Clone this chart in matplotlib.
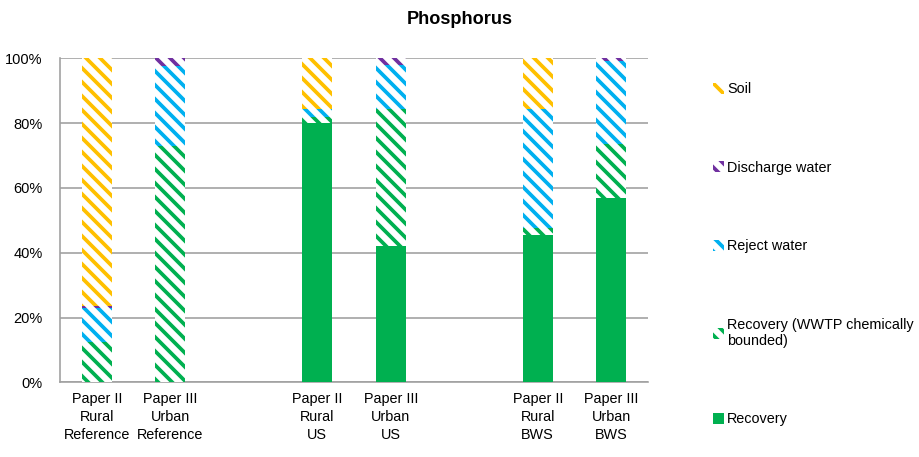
import numpy as np
import matplotlib.pyplot as plt
from matplotlib.patches import Patch

# categories (empty strings are the gaps between groups)
categories = ["Paper II\nRural\nReference", "Paper III\nUrban\nReference", "",
              "Paper II\nRural\nUS", "Paper III\nUrban\nUS", "",
              "Paper II\nRural\nBWS", "Paper III\nUrban\nBWS"]

# shares in %, bottom to top of each stack
recovery = [0, 0, 0, 80, 42.1, 0, 45.5, 57]
recovery_chem = [12.5, 73, 0, 2, 42.1, 0, 2, 16.4]
reject_water = [10.5, 24.5, 0, 2.5, 13.6, 0, 37, 25.8]
discharge_water = [0.5, 2.5, 0, 0, 2.2, 0, 0, 0.8]
soil = [76.5, 0, 0, 15.5, 0, 0, 15.5, 0]

DPI = 84
plt.rcParams['font.family'] = ['Liberation Sans', 'DejaVu Sans']
plt.rcParams['hatch.linewidth'] = 3.2

fig = plt.figure(figsize=(919 / DPI, 457 / DPI), dpi=DPI)
ax = fig.add_axes([60 / 919, 1 - 382.3 / 457, (648 - 60) / 919, (382.3 - 58.3) / 457])

x = np.arange(len(categories))
w = 0.41
green = "#00B050"

series = [
    (recovery, "Recovery", green, None),
    (recovery_chem, "Recovery (WWTP chemically\nbounded)", green, "\\\\"),
    (reject_water, "Reject water", "#00B0F0", "\\\\"),
    (discharge_water, "Discharge water", "#7030A0", "\\\\"),
    (soil, "Soil", "#FFC000", "\\\\"),
]

bottom = np.zeros(len(categories))
handles = []
for vals, label, col, hatch in series:
    vals = np.array(vals, dtype=float)
    if hatch is None:
        ax.bar(x, vals, w, bottom=bottom, color=col, linewidth=0, zorder=3)
        handles.append(Patch(facecolor=col, edgecolor=col, linewidth=0, label=label))
    else:
        ax.bar(x, vals, w, bottom=bottom, facecolor="white", edgecolor=col,
               hatch=hatch, linewidth=0, zorder=3)
        handles.append(Patch(facecolor="white", edgecolor=col, hatch=hatch,
                             linewidth=0, label=label))
    bottom += vals

ax.set_xlim(-0.5, len(categories) - 0.5)
ax.set_ylim(0, 100)
ax.set_yticks(np.arange(0, 101, 20))
ax.set_yticklabels(["%d%%" % v for v in range(0, 101, 20)])
ax.set_xticks(x)
ax.set_xticklabels(categories, linespacing=1.4)
ax.tick_params(axis='x', length=0, labelsize=12.3, pad=8)
ax.tick_params(axis='y', length=0, labelsize=12.5, pad=15)

ax.grid(axis='y', color="#A0A0A0", linewidth=1.4, zorder=0)
ax.set_axisbelow(True)
for s in ["top", "right"]:
    ax.spines[s].set_visible(False)
for s in ["left", "bottom"]:
    ax.spines[s].set_color("#A0A0A0")
    ax.spines[s].set_linewidth(1.4)

fig.suptitle("Phosphorus", fontweight="bold", fontsize=15.5, x=0.5, y=0.975)

fig.legend(handles=handles[::-1], loc="upper left", bbox_to_anchor=(713 / 919, 1 - 82 / 457),
           frameon=False, fontsize=12.3, handlelength=0.8, handleheight=0.8,
           handletextpad=0.2, labelspacing=4.5, borderaxespad=0, borderpad=0)

fig.savefig("out.png", dpi=DPI)
